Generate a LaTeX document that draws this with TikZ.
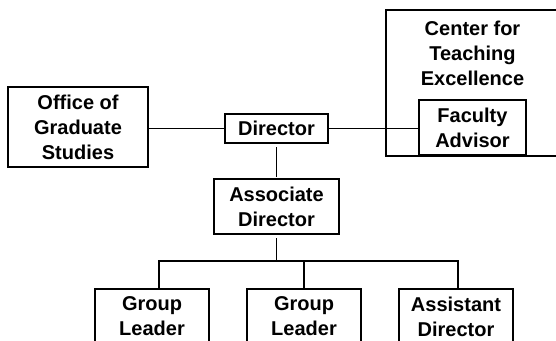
\documentclass[tikz,border=0pt]{standalone}
\usepackage{fontspec}
\setmainfont{Liberation Sans}
\usetikzlibrary{positioning}

\begin{document}
\begin{tikzpicture}[x=1pt,y=-1pt,
    font=\bfseries\fontsize{20}{25}\selectfont,
    unit/.style={draw,line width=2pt,align=center,inner sep=0pt},
    link/.style={draw,line width=1.2pt}]
    \useasboundingbox (0,0) rectangle (556,340);
    \clip (0,0) rectangle (556,340);
    % top row
    \node [unit,minimum width=140pt,minimum height=80pt] (ogs) at (78,127) {Office of\\Graduate\\Studies};
    \node [unit,minimum width=103pt,minimum height=29pt] (dir) at (276.5,128.5) {Director};
    \node [unit,minimum width=173pt,minimum height=146pt] (cte) at (472.5,83) {};
    \node [align=center,inner sep=0pt,anchor=north] (ctename) at ([yshift=-12pt]cte.north) {Center for\\Teaching\\Excellence};
    \node [unit,fill=white,minimum width=107pt,minimum height=55pt] (fac) at (472.5,127.5) {Faculty\\Advisor};
    % lower rows
    \node [unit,minimum width=125pt,minimum height=55pt] (adir) at (276.5,206.5) {Associate\\Director};
    \node [unit,minimum width=114pt,minimum height=55pt] (gl1) at (152,316.5) {Group\\Leader};
    \node [unit,minimum width=114pt,minimum height=55pt] (gl2) at (304,316.5) {Group\\Leader};
    \node [unit,minimum width=114pt,minimum height=55pt] (asd) at (456,316.5) {Assistant\\Director};
    \coordinate (split) at (276.5,261);
    \coordinate (b1) at (159,261);
    \coordinate (b3) at (458,261);
    % connectors
    \draw [link] (ogs.east |- dir.west) -- (dir.west);
    \draw [link] (dir.east) -- (fac.west |- dir.east);
    \draw [link] ([yshift=-3pt]dir.south) -- ([yshift=1pt]adir.north);
    \draw [link] ([yshift=-3pt]adir.south) -- (split);
    \draw [link] (b1 |- gl1.north) -- (b1) -- (b3) -- (b3 |- asd.north);
    \draw [link] (gl2.north) -- (gl2.north |- split);
\end{tikzpicture}
\end{document}
